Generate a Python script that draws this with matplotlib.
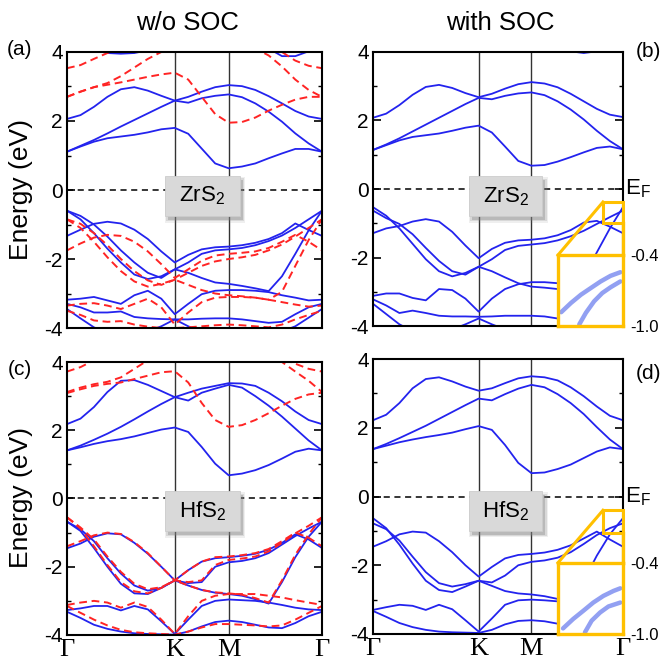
import numpy as np
import matplotlib
matplotlib.use("Agg")
import matplotlib.pyplot as plt
from matplotlib.patches import Rectangle
import matplotlib.transforms as mtransforms

plt.rcParams['font.family'] = ['Liberation Sans', 'DejaVu Sans']
plt.rcParams['mathtext.default'] = 'regular'
plt.rcParams['axes.unicode_minus'] = False

# path Γ-K-M-Γ, segment lengths in units of |ΓK|
seg_len = [1.0, 0.5, 0.866]
kpath_labels = ['Γ', 'K', 'M', 'Γ']

# ---------------- ZrS2, without SOC (solid) ----------------
zrs2_nosoc = [
    [4.30, 4.20, 4.05, 3.97, 3.95, 3.97, 4.05, 4.20, 4.35, 4.45, 4.50, 4.50, 4.50, 4.45, 4.30, 4.10, 3.88, 3.88, 4.02, 4.30],
    [2.06, 2.17, 2.41, 2.70, 2.92, 2.98, 2.88, 2.73, 2.59, 2.70, 2.85, 2.98, 3.04, 3.01, 2.90, 2.72, 2.51, 2.29, 2.13, 2.06],
    [1.11, 1.28, 1.45, 1.64, 1.84, 2.03, 2.22, 2.41, 2.59, 2.53, 2.66, 2.73, 2.77, 2.69, 2.51, 2.27, 1.98, 1.64, 1.35, 1.11],
    [1.11, 1.26, 1.40, 1.50, 1.55, 1.60, 1.67, 1.76, 1.80, 1.63, 1.20, 0.77, 0.63, 0.68, 0.77, 0.92, 1.06, 1.19, 1.19, 1.11],
    [-1.33, -1.15, -0.98, -0.92, -0.97, -1.15, -1.42, -1.78, -2.10, -1.88, -1.72, -1.66, -1.64, -1.60, -1.53, -1.42, -1.25, -0.97, -1.16, -1.33],
    [-0.60, -0.85, -1.25, -1.70, -2.10, -2.45, -2.58, -2.50, -2.30, -2.40, -2.55, -2.68, -2.72, -2.78, -2.85, -2.93, -2.50, -1.85, -1.17, -0.60],
    [-0.60, -0.75, -1.00, -1.35, -1.75, -2.10, -2.40, -2.55, -2.30, -2.10, -1.85, -1.75, -1.72, -1.68, -1.60, -1.48, -1.32, -1.10, -0.85, -0.60],
    [-3.18, -3.15, -3.10, -3.20, -3.30, -3.05, -2.92, -3.15, -3.60, -3.30, -3.02, -2.92, -2.90, -2.90, -2.92, -2.96, -3.05, -3.12, -3.20, -3.18],
    [-3.30, -3.40, -3.55, -3.55, -3.52, -3.68, -3.72, -3.74, -3.75, -3.75, -3.73, -3.72, -3.72, -3.75, -3.80, -3.85, -3.82, -3.60, -3.40, -3.30],
    [-3.45, -3.72, -3.98, -4.15, -4.25, -4.20, -4.10, -3.95, -3.75, -3.95, -4.10, -4.20, -4.25, -4.25, -4.20, -4.15, -4.10, -3.95, -3.70, -3.45],
]
# ZrS2, without SOC (dashed)
zrs2_nosoc_dash = [
    [3.53, 3.62, 3.80, 3.97, 4.10, 4.20, 4.30, 4.40, 4.45, 4.50, 4.50, 4.50, 4.50, 4.45, 4.35, 4.15, 4.00, 3.75, 3.60, 3.53],
    [2.70, 2.85, 2.98, 3.10, 3.30, 3.55, 3.80, 4.00, 4.15, 4.20, 4.25, 4.30, 4.30, 4.25, 4.10, 3.90, 3.58, 3.20, 2.90, 2.70],
    [2.70, 2.85, 2.98, 3.05, 3.12, 3.20, 3.28, 3.35, 3.40, 3.20, 2.70, 2.20, 1.95, 1.97, 2.10, 2.30, 2.47, 2.62, 2.70, 2.70],
    [-1.75, -1.55, -1.38, -1.30, -1.33, -1.50, -1.78, -2.15, -2.55, -2.30, -2.05, -1.90, -1.85, -1.82, -1.78, -1.68, -1.50, -1.30, -1.50, -1.75],
    [-0.85, -1.10, -1.50, -1.95, -2.35, -2.65, -2.80, -2.72, -2.60, -2.75, -2.90, -3.00, -3.05, -3.08, -3.12, -3.18, -2.95, -2.20, -1.45, -0.85],
    [-0.85, -0.98, -1.25, -1.60, -2.00, -2.35, -2.62, -2.75, -2.60, -2.40, -2.20, -2.07, -2.00, -1.95, -1.88, -1.75, -1.58, -1.35, -1.10, -0.85],
    [-3.35, -3.30, -3.28, -3.35, -3.45, -3.30, -3.15, -3.40, -3.90, -3.55, -3.25, -3.12, -3.10, -3.10, -3.12, -3.18, -3.25, -3.32, -3.38, -3.35],
    [-3.50, -3.62, -3.78, -3.82, -3.80, -3.90, -3.96, -4.00, -4.00, -3.98, -3.95, -3.92, -3.90, -3.92, -3.95, -3.98, -3.90, -3.75, -3.62, -3.50],
]
# ZrS2, with SOC
zrs2_soc = [
    [4.40, 4.25, 4.10, 4.02, 4.00, 4.02, 4.10, 4.25, 4.35, 4.45, 4.50, 4.50, 4.50, 4.40, 4.20, 4.02, 3.97, 4.02, 4.15, 4.40],
    [2.08, 2.20, 2.45, 2.75, 2.98, 3.04, 2.95, 2.80, 2.68, 2.78, 2.93, 3.06, 3.12, 3.08, 2.97, 2.78, 2.56, 2.34, 2.17, 2.10],
    [1.14, 1.30, 1.48, 1.68, 1.88, 2.08, 2.28, 2.48, 2.66, 2.62, 2.72, 2.79, 2.82, 2.74, 2.56, 2.32, 2.03, 1.70, 1.40, 1.16],
    [1.14, 1.28, 1.42, 1.52, 1.57, 1.62, 1.70, 1.79, 1.85, 1.65, 1.24, 0.82, 0.68, 0.70, 0.80, 0.93, 1.07, 1.20, 1.24, 1.16],
    [-1.29, -1.15, -1.08, -0.95, -0.88, -0.95, -1.25, -1.65, -2.02, -1.75, -1.57, -1.50, -1.48, -1.44, -1.35, -1.20, -0.98, -0.93, -1.10, -1.29],
    [-0.53, -0.78, -1.15, -1.60, -2.05, -2.40, -2.55, -2.45, -2.27, -2.40, -2.58, -2.75, -2.85, -2.88, -2.92, -2.95, -2.55, -1.85, -1.15, -0.53],
    [-0.63, -0.85, -1.02, -1.32, -1.72, -2.10, -2.40, -2.50, -2.27, -2.05, -1.78, -1.66, -1.62, -1.58, -1.50, -1.38, -1.22, -1.02, -0.82, -0.63],
    [-3.12, -3.05, -3.05, -3.18, -3.25, -2.92, -2.95, -3.20, -3.58, -3.20, -2.92, -2.78, -2.72, -2.72, -2.75, -2.82, -2.95, -3.05, -3.12, -3.12],
    [-3.22, -3.40, -3.62, -3.55, -3.62, -3.70, -3.72, -3.72, -3.73, -3.72, -3.70, -3.70, -3.70, -3.72, -3.78, -3.85, -3.82, -3.60, -3.40, -3.22],
    [-3.35, -3.65, -3.95, -4.15, -4.25, -4.20, -4.10, -3.95, -3.78, -3.95, -4.10, -4.20, -4.25, -4.25, -4.20, -4.15, -4.10, -3.95, -3.65, -3.35],
]

# ---------------- HfS2, without SOC (solid) ----------------
hfs2_nosoc = [
    [2.18, 2.34, 2.68, 3.12, 3.45, 3.47, 3.33, 3.15, 2.97, 3.10, 3.22, 3.30, 3.38, 3.37, 3.30, 3.10, 2.85, 2.55, 2.30, 2.18],
    [1.41, 1.55, 1.72, 1.90, 2.10, 2.32, 2.55, 2.77, 2.97, 2.87, 3.10, 3.22, 3.33, 3.25, 3.00, 2.72, 2.40, 2.05, 1.70, 1.41],
    [1.41, 1.50, 1.60, 1.68, 1.74, 1.82, 1.92, 2.02, 2.08, 1.95, 1.51, 1.02, 0.68, 0.73, 0.83, 0.98, 1.17, 1.37, 1.46, 1.41],
    [-1.46, -1.32, -1.12, -1.02, -1.05, -1.30, -1.62, -2.00, -2.40, -2.10, -1.85, -1.75, -1.72, -1.68, -1.62, -1.50, -1.30, -1.05, -1.20, -1.45],
    [-0.68, -0.95, -1.45, -2.00, -2.50, -2.78, -2.80, -2.62, -2.40, -2.55, -2.68, -2.76, -2.80, -2.85, -2.95, -3.08, -2.45, -1.72, -1.12, -0.68],
    [-0.68, -0.90, -1.25, -1.75, -2.20, -2.55, -2.70, -2.62, -2.40, -2.48, -2.45, -2.00, -1.87, -1.83, -1.75, -1.60, -1.35, -1.10, -0.88, -0.68],
    [-3.27, -3.22, -3.15, -3.15, -3.28, -3.15, -3.25, -3.60, -3.97, -3.55, -3.15, -3.00, -2.96, -2.98, -3.00, -3.05, -3.12, -3.20, -3.25, -3.27],
    [-3.32, -3.50, -3.70, -3.82, -3.90, -3.95, -3.97, -3.98, -3.99, -3.90, -3.75, -3.62, -3.58, -3.62, -3.70, -3.78, -3.80, -3.65, -3.45, -3.32],
]
# HfS2, without SOC (dashed)
hfs2_nosoc_dash = [
    [3.72, 3.85, 4.05, 4.20, 4.30, 4.40, 4.45, 4.50, 4.50, 4.50, 4.50, 4.50, 4.50, 4.45, 4.40, 4.25, 4.10, 3.95, 3.80, 3.72],
    [3.12, 3.25, 3.35, 3.42, 3.55, 3.80, 4.05, 4.25, 4.40, 4.45, 4.50, 4.50, 4.50, 4.45, 4.30, 4.20, 4.00, 3.72, 3.45, 3.12],
    [3.09, 3.20, 3.30, 3.36, 3.40, 3.50, 3.60, 3.70, 3.73, 3.40, 2.80, 2.30, 2.10, 2.15, 2.30, 2.50, 2.72, 2.92, 3.05, 3.10],
    [-1.40, -1.25, -1.08, -1.00, -1.04, -1.28, -1.60, -2.00, -2.40, -2.10, -1.85, -1.72, -1.70, -1.66, -1.60, -1.48, -1.25, -1.00, -1.15, -1.40],
    [-0.55, -0.88, -1.40, -1.95, -2.45, -2.72, -2.78, -2.62, -2.40, -2.55, -2.68, -2.75, -2.78, -2.82, -2.92, -3.05, -2.40, -1.65, -1.05, -0.55],
    [-0.55, -0.85, -1.20, -1.70, -2.15, -2.50, -2.66, -2.60, -2.40, -2.45, -2.40, -1.95, -1.80, -1.76, -1.70, -1.55, -1.30, -1.02, -0.80, -0.55],
    [-3.12, -3.05, -3.00, -3.05, -3.20, -3.05, -3.18, -3.55, -3.97, -3.45, -3.00, -2.85, -2.80, -2.80, -2.80, -2.85, -2.90, -2.98, -3.05, -3.12],
    [-3.15, -3.35, -3.55, -3.72, -3.85, -3.92, -3.95, -3.97, -3.99, -3.90, -3.78, -3.68, -3.68, -3.70, -3.72, -3.75, -3.72, -3.55, -3.35, -3.15],
]
# HfS2, with SOC
hfs2_soc = [
    [2.22, 2.38, 2.72, 3.15, 3.42, 3.47, 3.35, 3.20, 3.08, 3.15, 3.30, 3.44, 3.50, 3.47, 3.38, 3.18, 2.92, 2.62, 2.35, 2.22],
    [1.38, 1.53, 1.70, 1.88, 2.06, 2.26, 2.46, 2.66, 2.85, 2.80, 2.98, 3.14, 3.25, 3.18, 2.98, 2.72, 2.40, 2.02, 1.66, 1.38],
    [1.38, 1.48, 1.58, 1.66, 1.73, 1.79, 1.86, 1.96, 2.05, 1.94, 1.50, 0.98, 0.68, 0.70, 0.80, 0.93, 1.12, 1.31, 1.43, 1.38],
    [-1.46, -1.30, -1.10, -1.02, -1.05, -1.30, -1.62, -2.00, -2.33, -2.05, -1.80, -1.70, -1.67, -1.63, -1.55, -1.42, -1.22, -1.02, -1.25, -1.46],
    [-0.63, -0.92, -1.40, -1.95, -2.45, -2.72, -2.78, -2.62, -2.45, -2.60, -2.75, -2.82, -2.85, -2.90, -2.98, -3.05, -2.45, -1.72, -1.10, -0.63],
    [-0.78, -0.95, -1.28, -1.75, -2.20, -2.52, -2.62, -2.55, -2.45, -2.50, -2.30, -2.00, -1.90, -1.86, -1.78, -1.62, -1.38, -1.12, -0.92, -0.78],
    [-3.30, -3.22, -3.15, -3.18, -3.30, -3.15, -3.28, -3.60, -3.93, -3.55, -3.15, -3.02, -3.00, -3.02, -3.05, -3.08, -3.12, -3.20, -3.27, -3.30],
    [-3.33, -3.50, -3.68, -3.80, -3.88, -3.93, -3.95, -3.96, -3.97, -3.88, -3.72, -3.62, -3.60, -3.63, -3.70, -3.76, -3.80, -3.65, -3.48, -3.33],
]

# zoomed view of the two top valence bands next to Γ (inset, x in inset units 0..1)
zr_inset_k_upper = [0.05, 0.20, 0.354, 0.505, 0.657, 0.808, 0.96]
zr_inset_upper = [-0.883, -0.805, -0.735, -0.679, -0.623, -0.576, -0.545]
zr_inset_k_lower = [0.328, 0.43, 0.556, 0.682, 0.808, 0.96]
zr_inset_lower = [-0.986, -0.888, -0.791, -0.721, -0.673, -0.623]
hf_inset_k_upper = [0.078, 0.233, 0.389, 0.544, 0.699, 0.855, 0.959]
hf_inset_upper = [-0.953, -0.874, -0.805, -0.735, -0.679, -0.637, -0.615]
hf_inset_k_lower = [0.415, 0.518, 0.648, 0.777, 0.959]
hf_inset_lower = [-0.986, -0.888, -0.819, -0.768, -0.735]

BLUE = '#2323ee'
RED = '#ff2424'
GOLD = '#ffc000'

k_nodes = np.concatenate([[0], np.cumsum(seg_len)])
kpts = np.concatenate([np.linspace(k_nodes[0], k_nodes[1], 9),
                       np.linspace(k_nodes[1], k_nodes[2], 5)[1:],
                       np.linspace(k_nodes[2], k_nodes[3], 8)[1:]])


def draw_panel(ax, solid, dashed, name, box_y0, bottom):
    for band in solid:
        ax.plot(kpts, band, color=BLUE, lw=1.3, solid_joinstyle='round')
    for band in dashed:
        ax.plot(kpts, band, color=RED, lw=1.4, ls=(0, (4, 2.4)))
    for kx in k_nodes[1:3]:
        ax.axvline(kx, color='#333333', lw=1.0, zorder=1)
    ax.axhline(0, color='k', lw=1.1, ls=(0, (4, 3)), zorder=1)
    ax.set_xlim(k_nodes[0], k_nodes[-1])
    ax.set_ylim(-4, 4)
    ax.set_yticks([-4, -2, 0, 2, 4])
    ax.set_yticks([-3, -1, 1, 3], minor=True)
    ax.tick_params(axis='y', which='both', direction='in', left=True, right=True,
                   labelsize=15, pad=3)
    ax.tick_params(axis='y', which='major', length=6, width=1.2)
    ax.tick_params(axis='y', which='minor', length=3, width=1.0)
    if bottom:
        ax.set_xticks(k_nodes)
        ax.set_xticklabels(kpath_labels, family=['Liberation Serif', 'DejaVu Serif'], fontsize=19)
        ax.tick_params(axis='x', length=0, pad=3)
    else:
        ax.set_xticks([])
    for sp in ax.spines.values():
        sp.set_linewidth(1.5)

    # label box with a soft drop shadow
    bw, bh, bx0 = 0.295, 0.145, 0.383
    for grow, alpha in [(0.010, 0.12), (0.005, 0.2), (0.0, 0.35)]:
        ax.add_patch(Rectangle((bx0 + 0.012 - grow, box_y0 - 0.014 - grow), bw + 2 * grow, bh + 2 * grow,
                               transform=ax.transAxes, facecolor='#808080', edgecolor='none',
                               alpha=alpha, zorder=5))
    ax.add_patch(Rectangle((bx0, box_y0), bw, bh, transform=ax.transAxes,
                           facecolor='#d9d9d9', edgecolor='#cccccc', lw=0.6, zorder=6))
    ax.text(bx0 + bw / 2, box_y0 + bh / 2, name, transform=ax.transAxes,
            ha='center', va='center', fontsize=16, zorder=7)


def draw_zoom(ax, k_up, e_up, k_lo, e_lo, small_y):
    # small frame near Γ and the enlarged frame below it
    kx0 = k_nodes[-1] - 0.08 * k_nodes[-1]
    ax.add_patch(Rectangle((kx0, small_y[0]), k_nodes[-1] - kx0, small_y[1] - small_y[0],
                           fill=False, edgecolor=GOLD, lw=2.2, zorder=8, clip_on=False))
    ins = ax.inset_axes([0.74, 0.0, 0.26, 0.259])
    ins.set_zorder(9)
    ins.set_facecolor('white')
    ins.plot(k_up, e_up, color='#7f8ff0', lw=3.2, alpha=0.85, solid_capstyle='round')
    ins.plot(k_lo, e_lo, color='#7f8ff0', lw=3.2, alpha=0.85, solid_capstyle='round')
    ins.set_xlim(0, 1)
    ins.set_ylim(-1.0, -0.4)
    ins.set_xticks([])
    ins.yaxis.tick_right()
    ins.set_yticks([-1.0, -0.4])
    ins.set_yticklabels(['-1.0', '-0.4'])
    ins.tick_params(axis='y', length=0, pad=5, labelsize=12)
    for sp in ins.spines.values():
        sp.set_edgecolor(GOLD)
        sp.set_linewidth(2.4)
    top_e = -4 + 0.259 * 8
    ax.plot([kx0, 0.74 * k_nodes[-1]], [small_y[1], top_e], color=GOLD, lw=2.2,
            zorder=8, clip_on=False)
    ax.plot([k_nodes[-1], k_nodes[-1]], [small_y[0], top_e], color=GOLD, lw=2.4,
            zorder=8, clip_on=False)
    ax.text(1.01, 0, 'E$_F$', transform=mtransforms.blended_transform_factory(ax.transAxes, ax.transData),
            ha='left', va='center', fontsize=16)


fig = plt.figure(figsize=(6.64, 6.64), dpi=100)
ax_a = fig.add_axes([0.1009, 0.506, 0.384, 0.4157])
ax_b = fig.add_axes([0.5617, 0.509, 0.3765, 0.4127])
ax_c = fig.add_axes([0.1009, 0.0437, 0.384, 0.4111])
ax_d = fig.add_axes([0.5617, 0.0452, 0.3765, 0.414])

draw_panel(ax_a, zrs2_nosoc, zrs2_nosoc_dash, 'ZrS$_2$', 0.406, False)
draw_panel(ax_b, zrs2_soc, [], 'ZrS$_2$', 0.401, False)
draw_panel(ax_c, hfs2_nosoc, hfs2_nosoc_dash, 'HfS$_2$', 0.381, True)
draw_panel(ax_d, hfs2_soc, [], 'HfS$_2$', 0.375, True)

draw_zoom(ax_b, zr_inset_k_upper, zr_inset_upper, zr_inset_k_lower, zr_inset_lower, (-1.0, -0.38))
draw_zoom(ax_d, hf_inset_k_upper, hf_inset_upper, hf_inset_k_lower, hf_inset_lower, (-1.05, -0.4))

fig.text(0.282, 0.965, 'w/o SOC', ha='center', va='center', fontsize=18.5)
fig.text(0.753, 0.965, 'with SOC', ha='center', va='center', fontsize=18.5)
fig.text(0.032, 0.714, 'Energy (eV)', rotation=90, ha='center', va='center', fontsize=19)
fig.text(0.032, 0.250, 'Energy (eV)', rotation=90, ha='center', va='center', fontsize=19)
fig.text(0.030, 0.925, '(a)', ha='center', va='center', fontsize=15)
fig.text(0.976, 0.922, '(b)', ha='center', va='center', fontsize=15)
fig.text(0.030, 0.443, '(c)', ha='center', va='center', fontsize=15)
fig.text(0.976, 0.438, '(d)', ha='center', va='center', fontsize=15)

fig.savefig('out.png', dpi=100)
